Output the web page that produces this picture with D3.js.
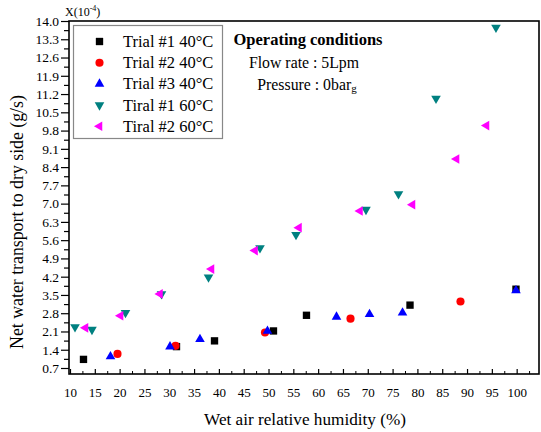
<!DOCTYPE html>
<html>
<head>
<meta charset="utf-8">
<script src="https://cdn.jsdelivr.net/npm/d3@7"></script>
<style>
  html, body { margin: 0; padding: 0; background: #fff; }
  svg { display: block; font-family: "Liberation Serif", "Times New Roman", serif; }
</style>
</head>
<body>
<div id="chart"></div>
<script>
// humidity (%) and net water transport (x10^-4 g/s)
const trial1_40 = [[12.72, 1.03], [31.46, 1.52], [39.12, 1.74], [51.0, 2.12], [57.65, 2.72], [78.51, 3.11], [99.86, 3.72]];
const trial2_40 = [[19.57, 1.24], [31.26, 1.55], [49.29, 2.06], [66.52, 2.59], [88.68, 3.25]];
const trial3_40 = [[18.16, 1.14], [30.15, 1.52], [36.19, 1.80], [49.79, 2.12], [63.7, 2.66], [70.35, 2.76], [77.0, 2.82], [99.86, 3.67]];
const tiral1_60 = [[11.01, 2.27], [14.43, 2.17], [21.18, 2.82], [28.44, 3.54], [37.91, 4.18], [48.28, 5.30], [55.54, 5.81], [69.64, 6.77], [76.19, 7.37], [83.75, 11.03], [95.83, 13.75]];
const tiral2_60 = [[13.12, 2.24], [20.18, 2.70], [28.13, 3.54], [38.51, 4.49], [47.28, 5.20], [56.14, 6.08], [68.43, 6.72], [79.01, 6.96], [87.88, 8.71], [93.92, 9.99]];

const seriesNames = ["Trial #1 40°C", "Trial #2 40°C", "Trial #3 40°C", "Tiral #1 60°C", "Tiral #2 60°C"];
const xTicks = [10, 15, 20, 25, 30, 35, 40, 45, 50, 55, 60, 65, 70, 75, 80, 85, 90, 95, 100];
const yTicks = [0.7, 1.4, 2.1, 2.8, 3.5, 4.2, 4.9, 5.6, 6.3, 7.0, 7.7, 8.4, 9.1, 9.8, 10.5, 11.2, 11.9, 12.6, 13.3, 14.0];

const series = [
  { name: seriesNames[0], values: trial1_40, color: "#000000", shape: d3.symbolSquare, size: 54, rotate: 0 },
  { name: seriesNames[1], values: trial2_40, color: "#ff0000", shape: d3.symbolCircle, size: 52, rotate: 0 },
  { name: seriesNames[2], values: trial3_40, color: "#0000ff", shape: d3.symbolTriangle, size: 40, rotate: 0 },
  { name: seriesNames[3], values: tiral1_60, color: "#008080", shape: d3.symbolTriangle, size: 40, rotate: 180 },
  { name: seriesNames[4], values: tiral2_60, color: "#ff00ff", shape: d3.symbolTriangle, size: 40, rotate: -90 },
];

const width = 541;
const height = 432;
const margin = { top: 21, right: 2, bottom: 58, left: 69 };

const x = d3.scaleLinear().domain([9.8, 104.5]).range([margin.left, width - margin.right]);
const y = d3.scaleLinear().domain([0.47, 14.0]).range([height - margin.bottom, margin.top]);

const svg = d3.select("#chart").append("svg")
  .attr("width", width)
  .attr("height", height)
  .attr("viewBox", `0 0 ${width} ${height}`);

// x axis: ticks point inward
const xMinor = d3.range(12.5, 104, 5);
svg.append("g")
  .attr("transform", `translate(0,${y.range()[0]})`)
  .call(d3.axisBottom(x).tickValues(xMinor).tickSize(-3).tickFormat(""))
  .call((g) => g.select(".domain").remove());
svg.append("g")
  .attr("transform", `translate(0,${y.range()[0]})`)
  .call(d3.axisBottom(x).tickValues(xTicks).tickSize(-5).tickPadding(14).tickFormat(d3.format("d")))
  .call((g) => g.select(".domain").remove())
  .call((g) => g.selectAll("text").attr("font-size", 13).attr("fill", "#000").attr("font-family", "Liberation Serif"))
  .call((g) => g.selectAll("line").attr("stroke-width", 1.2));

// y axis: ticks point outward
const yMinor = yTicks.map((d) => d - 0.35).filter((d) => d > 0.47);
svg.append("g")
  .attr("transform", `translate(${x.range()[0]},0)`)
  .call(d3.axisLeft(y).tickValues(yMinor).tickSize(5).tickFormat(""))
  .call((g) => g.select(".domain").remove())
  .call((g) => g.selectAll("line").attr("stroke-width", 1.2));
svg.append("g")
  .attr("transform", `translate(${x.range()[0]},0)`)
  .call(d3.axisLeft(y).tickValues(yTicks).tickSize(8).tickPadding(2).tickFormat(d3.format(".1f")))
  .call((g) => g.select(".domain").remove())
  .call((g) => g.selectAll("text").attr("font-size", 13.5).attr("fill", "#000").attr("font-family", "Liberation Serif"))
  .call((g) => g.selectAll("line").attr("stroke-width", 1.2));

// frame
svg.append("rect")
  .attr("x", x.range()[0])
  .attr("y", y.range()[1])
  .attr("width", x.range()[1] - x.range()[0])
  .attr("height", y.range()[0] - y.range()[1])
  .attr("fill", "none")
  .attr("stroke", "#000")
  .attr("stroke-width", 1.6);

// exponent label
const expLabel = svg.append("text")
  .attr("x", 65)
  .attr("y", 16)
  .attr("font-size", 12);
expLabel.append("tspan").text("X(10");
expLabel.append("tspan").attr("dy", -5).attr("font-size", 8).text("-4");
expLabel.append("tspan").attr("dy", 5).text(")");

// points
const symbol = (s) => d3.symbol().type(s.shape).size(s.size)();
series.forEach((s) => {
  svg.append("g")
    .selectAll("path")
    .data(s.values)
    .join("path")
    .attr("d", symbol(s))
    .attr("fill", s.color)
    .attr("transform", (d) => `translate(${x(d[0])},${y(d[1])}) rotate(${s.rotate})`);
});

// legend
const legend = svg.append("g");
legend.append("rect")
  .attr("x", 73.5)
  .attr("y", 25.5)
  .attr("width", 149)
  .attr("height", 113)
  .attr("fill", "#fff")
  .attr("stroke", "#888")
  .attr("stroke-width", 1.2);
const item = legend.selectAll("g.item")
  .data(series)
  .join("g")
  .attr("class", "item")
  .attr("transform", (d, i) => `translate(0,${41.5 + i * 21.2})`);
item.append("path")
  .attr("d", (d) => symbol(d))
  .attr("fill", (d) => d.color)
  .attr("transform", (d) => `translate(99.5,0) rotate(${d.rotate})`);
item.append("text")
  .attr("x", 123)
  .attr("y", 5.5)
  .attr("font-size", 16.5)
  .attr("fill", "#000")
  .text((d) => d.name);

// operating conditions note
const note = svg.append("g").attr("text-anchor", "middle");
note.append("text").attr("x", 308).attr("y", 45).attr("font-size", 16.5).attr("font-weight", "bold").text("Operating conditions");
note.append("text").attr("x", 304).attr("y", 67.5).attr("font-size", 15.8).text("Flow rate : 5Lpm");
const press = note.append("text").attr("x", 307).attr("y", 90).attr("font-size", 15.8);
press.append("tspan").text("Pressure : 0bar");
press.append("tspan").attr("font-size", 11).attr("dy", 2).text("g");

// axis titles
svg.append("text")
  .attr("x", 305)
  .attr("y", 425)
  .attr("text-anchor", "middle")
  .attr("font-size", 17.2)
  .text("Wet air relative humidity (%)");
svg.append("text")
  .attr("transform", "translate(23,222) rotate(-90)")
  .attr("text-anchor", "middle")
  .attr("font-size", 17.8)
  .text("Net water transport to dry side (g/s)");
</script>
</body>
</html>
